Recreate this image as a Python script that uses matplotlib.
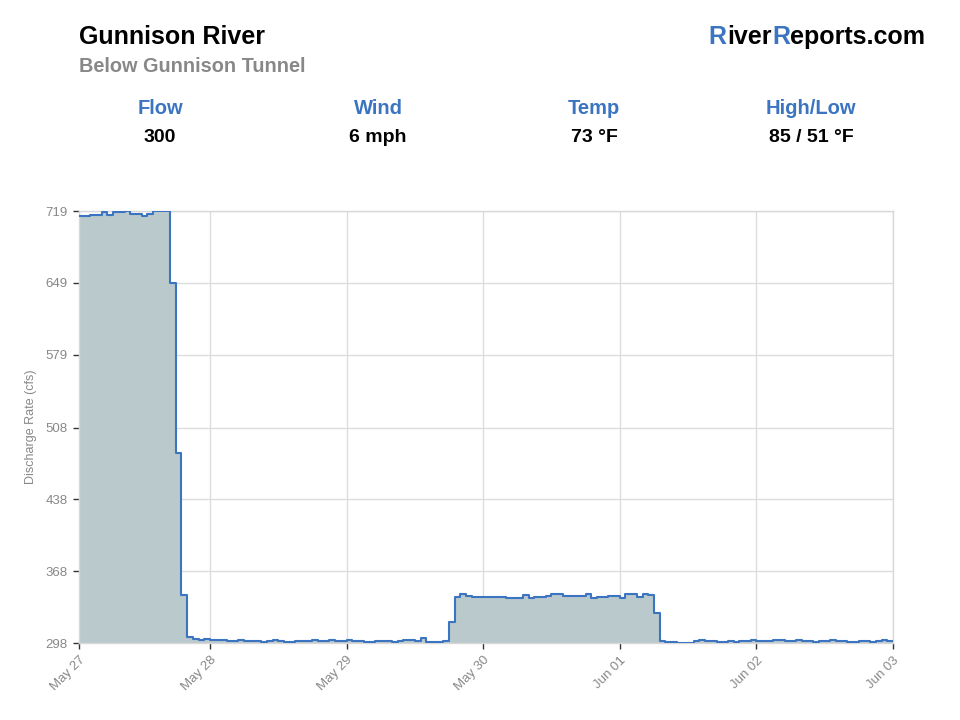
import numpy as np
import matplotlib
matplotlib.use("Agg")
import matplotlib.pyplot as plt

plt.rcParams['font.family'] = ['Liberation Sans', 'DejaVu Sans']

# ---- data (hourly discharge, cfs) ----
flow_high = [714, 714, 715, 715, 718, 715, 718, 718, 719, 716, 716, 714, 716, 719, 719, 719]
flow_drop = [649, 483, 345]
flow_low1 = [304, 302, 301, 302, 301, 301, 301, 300, 300, 301,
             300, 300, 300, 299, 300, 301, 300, 299, 299, 300,
             300, 300, 301, 300, 300, 301, 300, 300, 301, 300,
             300, 299, 299, 300, 300, 300, 299, 300, 301, 301,
             300, 303, 299, 299, 299, 300]
flow_plateau = [318,
                343, 346, 344, 343, 343, 343, 343, 343, 343, 342,
                342, 342, 345, 342, 343, 343, 344, 346, 346, 344,
                344, 344, 344, 346, 342, 343, 343, 344, 344, 342,
                346, 346, 343, 346, 345,
                327]
flow_low2 = [300, 299, 299, 298, 298, 298, 300, 301, 300, 300,
             299, 299, 300, 299, 300, 300, 301, 300, 300, 300,
             301, 301, 300, 300, 301, 300, 300, 299, 300, 300,
             301, 300, 300, 299, 299, 300, 300, 299, 300, 301,
             300]
flow = flow_high + flow_drop + flow_low1 + flow_plateau + flow_low2

x_tick_hours = [0, 23, 47, 71, 95, 119, 143]
x_tick_labels = ["May 27", "May 28", "May 29", "May 30", "Jun 01", "Jun 02", "Jun 03"]
y_ticks = [298, 368, 438, 508, 579, 649, 719]

stat_labels = ["Flow", "Wind", "Temp", "High/Low"]
stat_values = ["300", "6 mph", "73 °F", "85 / 51 °F"]

# ---- figure ----
W, H = 960, 720
fig = plt.figure(figsize=(9.6, 7.2), dpi=100)
ax = fig.add_axes([79 / W, 1 - 643 / H, (893 - 79) / W, (643 - 211) / H])

hours = np.arange(len(flow) + 1)
vals = np.array(flow + [flow[-1]])
blue = "#3b75c2"
ax.fill_between(hours, y_ticks[0], vals, step="post", color="#b9c9cc", lw=0, zorder=2)
ax.plot(hours, vals, drawstyle="steps-post", color=blue, lw=1.5, zorder=3)

ax.set_xlim(0, x_tick_hours[-1])
ax.set_ylim(y_ticks[0], y_ticks[-1])
ax.set_xticks(x_tick_hours)
ax.set_xticklabels(x_tick_labels, rotation=45, ha="right", rotation_mode="anchor",
                   color="#888888", fontsize=9.5)
ax.set_yticks(y_ticks)
ax.set_yticklabels([str(v) for v in y_ticks], color="#888888", fontsize=9.5)
ax.tick_params(axis="both", length=4, width=1, color="#333333", pad=4)
ax.grid(True, color="#dddddd", lw=1, zorder=0)
ax.set_axisbelow(True)
for s in ax.spines.values():
    s.set_color("#d8d8d8")
    s.set_linewidth(1)
ax.set_ylabel("Discharge Rate (cfs)", color="#888888", fontsize=9, labelpad=6)

# ---- header ----
fig.text(79 / W, 1 - 37 / H, "Gunnison River", fontsize=18, fontweight="bold",
         color="black", ha="left", va="center")
fig.text(79 / W, 1 - 67 / H, "Below Gunnison Tunnel", fontsize=14.3, fontweight="bold",
         color="#888888", ha="left", va="center")

# RiverReports.com with blue R's, laid out left to right, right edge at 925px
pieces = [("R", blue, 1), ("iver", "black", 0), ("R", blue, 0), ("eports.com", "black", 0)]
fig.canvas.draw()
renderer = fig.canvas.get_renderer()
widths = []
for txt, col, gap in pieces:
    t = fig.text(0, 0, txt, fontsize=18, fontweight="bold")
    widths.append(t.get_window_extent(renderer).width + gap)
    t.remove()
x0 = 925 - sum(widths)
for (txt, col, gap), w in zip(pieces, widths):
    fig.text(x0 / W, 1 - 37 / H, txt, fontsize=18, fontweight="bold", color=col,
             ha="left", va="center")
    x0 += w

stat_x = [160, 378, 594, 811]
for xs, lab, val in zip(stat_x, stat_labels, stat_values):
    fig.text(xs / W, 1 - 109 / H, lab, fontsize=14.5, fontweight="bold", color=blue,
             ha="center", va="center")
    fig.text(xs / W, 1 - 137 / H, val, fontsize=14, fontweight="bold", color="black",
             ha="center", va="center")

fig.savefig("out.png", dpi=100, facecolor="white")
